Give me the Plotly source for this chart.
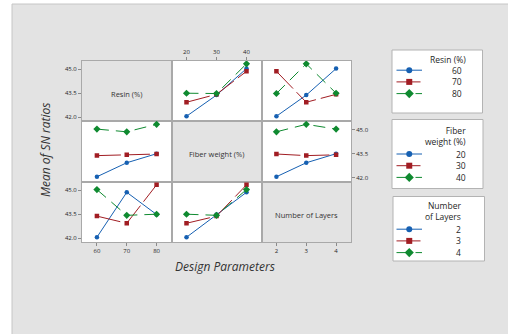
import plotly.graph_objects as go
import pandas as pd

# L9 orthogonal-array runs and the S/N ratio (dB) of each run
resin_pct = [60, 60, 60, 70, 70, 70, 80, 80, 80]
fiber_weight_pct = [20, 30, 40, 20, 30, 40, 20, 30, 40]
num_layers = [2, 3, 4, 3, 4, 2, 4, 2, 3]
sn_ratio = [42.05, 43.38, 45.05, 42.93, 43.43, 44.88, 43.50, 43.48, 45.35]

factor_cols = ["resin", "fiber", "layers"]
factor_names = ["Resin (%)", "Fiber weight (%)", "Number of Layers"]
factor_levels = [[60, 70, 80], [20, 30, 40], [2, 3, 4]]
legend_titles = ["Resin (%)", "Fiber<br>weight (%)", "Number<br>of Layers"]
y_tick_values = [42.0, 43.5, 45.0]

runs = pd.DataFrame({
    "resin": resin_pct,
    "fiber": fiber_weight_pct,
    "layers": num_layers,
    "sn": sn_ratio,
})

# ---- styling / geometry (pixels) ----
W, H = 508, 334
FONT = "Open Sans"
COL_EDGES = [82, 171.5, 261.5, 351]
ROW_EDGES = [60.5, 121, 181.5, 242]
X_RANGES = [[55, 85], [15, 45], [1.5, 4.5]]
Y_RANGE = [41.75, 45.56]
LEVEL_COLORS = ["#1660b2", "#a11d23", "#0f8a30"]
LEVEL_DASHES = ["solid", "24px,5px", "12px,7px"]
LEVEL_SYMBOLS = ["circle", "square", "diamond"]
LEVEL_SIZES = [4.5, 4.5, 5.5]
FRAME = "#a9a9a9"
CELL_GREY = "#e3e3e3"

X_TICK_CELLS = {(2, 0): "bottom", (0, 1): "top", (2, 2): "bottom"}
Y_TICK_CELLS = {(0, 0): "left", (1, 2): "right", (2, 0): "left"}

# legend boxes: (left, top, right, bottom), first title line y, first item y, text right edge
LEGEND_BOXES = [
    dict(box=(392, 50, 482.5, 113), title_y=59, item_y=70.2, right=463.5, title_right=468),
    dict(box=(392, 119.5, 483, 188.5), title_y=131, item_y=154, right=467.5, title_right=467.5),
    dict(box=(393, 196.5, 484.5, 261), title_y=205.7, item_y=229.2, right=462.5, title_right=462.5),
]
ITEM_STEP = 11.7
TITLE_STEP = 10.5
SAMPLE_X = (396.5, 422)


def fx(px):
    return px / W


def fy(py):
    return 1 - py / H


fig = go.Figure()
layout = {}
shapes = []
annotations = []

# grey page background
shapes.append(dict(type="rect", xref="paper", yref="paper", x0=fx(12), x1=1.02,
                   y0=-0.02, y1=fy(4), fillcolor="#e3e3e3",
                   line=dict(color="#c6c6c6", width=1), layer="below"))

tickfont = dict(family=FONT, size=6, color="#262626")

for i in range(3):
    for j in range(3):
        k = i * 3 + j + 1
        suffix = "" if k == 1 else str(k)
        xa = dict(domain=[fx(COL_EDGES[j]), fx(COL_EDGES[j + 1])], range=X_RANGES[j],
                  anchor="y" + suffix, showline=True, mirror=True, linecolor=FRAME,
                  linewidth=1, showgrid=False, zeroline=False, ticks="",
                  showticklabels=False, fixedrange=True)
        ya = dict(domain=[fy(ROW_EDGES[i + 1]), fy(ROW_EDGES[i])], range=Y_RANGE,
                  anchor="x" + suffix, showline=True, mirror=True, linecolor=FRAME,
                  linewidth=1, showgrid=False, zeroline=False, ticks="",
                  showticklabels=False, fixedrange=True)
        if (i, j) in X_TICK_CELLS:
            xa.update(side=X_TICK_CELLS[(i, j)], ticks="outside", ticklen=3, tickwidth=1,
                      tickcolor="#8a8a8a", showticklabels=True, tickvals=factor_levels[j],
                      tickfont=tickfont)
        if (i, j) in Y_TICK_CELLS:
            ya.update(side=Y_TICK_CELLS[(i, j)], ticks="outside", ticklen=3, tickwidth=1,
                      tickcolor="#8a8a8a", showticklabels=True, tickvals=y_tick_values,
                      tickformat=".1f", tickfont=tickfont)
        layout["xaxis" + suffix] = xa
        layout["yaxis" + suffix] = ya

        shapes.append(dict(type="rect", xref="x" + suffix + " domain",
                           yref="y" + suffix + " domain", x0=0, x1=1, y0=0, y1=1,
                           fillcolor=CELL_GREY if i == j else "white",
                           line=dict(width=0), layer="below"))

        if i == j:
            # empty trace so the label cell gets its own frame and ticks
            fig.add_trace(go.Scatter(x=[None], y=[None], xaxis="x" + suffix,
                                     yaxis="y" + suffix, mode="markers",
                                     showlegend=False, hoverinfo="skip"))
            annotations.append(dict(
                text=factor_names[i], xref="paper", yref="paper",
                x=fx((COL_EDGES[j] + COL_EDGES[j + 1]) / 2),
                y=fy((ROW_EDGES[i] + ROW_EDGES[i + 1]) / 2), yshift=-3,
                xanchor="center", yanchor="middle",
                showarrow=False, font=dict(family=FONT, size=7.5, color="#333333")))
            continue

        # mean S/N for each level of row factor i across the column factor j
        means = runs.groupby([factor_cols[i], factor_cols[j]])["sn"].mean()
        for li, lev in enumerate(factor_levels[i]):
            xs = factor_levels[j]
            ys = [means[(lev, xv)] for xv in xs]
            fig.add_trace(go.Scatter(
                x=xs, y=ys, xaxis="x" + suffix, yaxis="y" + suffix,
                mode="lines+markers",
                line=dict(color=LEVEL_COLORS[li], width=1, dash=LEVEL_DASHES[li]),
                marker=dict(symbol=LEVEL_SYMBOLS[li], size=LEVEL_SIZES[li],
                            color=LEVEL_COLORS[li], line=dict(width=0)),
                showlegend=False, hoverinfo="skip"))

# ---- legends (one per factor) on a full-page helper axis in pixel units ----
layout["xaxis10"] = dict(domain=[0, 1], range=[0, W], visible=False, anchor="y10",
                         fixedrange=True)
layout["yaxis10"] = dict(domain=[0, 1], range=[H, 0], visible=False, anchor="x10",
                         fixedrange=True)
legend_font = dict(family=FONT, size=8.5, color="#262626")
for f, spec in enumerate(LEGEND_BOXES):
    x0, y0, x1, y1 = spec["box"]
    shapes.append(dict(type="rect", xref="paper", yref="paper", x0=fx(x0), x1=fx(x1),
                       y0=fy(y1), y1=fy(y0), fillcolor="white",
                       line=dict(color="#b3b3b3", width=1), layer="below"))
    n_lines = legend_titles[f].count("<br>") + 1
    annotations.append(dict(
        text=legend_titles[f], xref="paper", yref="paper",
        x=fx(spec["title_right"]), xanchor="right", align="right",
        y=fy(spec["title_y"] + TITLE_STEP * (n_lines - 1) / 2), yanchor="middle",
        showarrow=False, font=legend_font))
    for li, lev in enumerate(factor_levels[f]):
        yy = spec["item_y"] + li * ITEM_STEP
        xmid = (SAMPLE_X[0] + SAMPLE_X[1]) / 2
        fig.add_trace(go.Scatter(
            x=list(SAMPLE_X), y=[yy, yy], xaxis="x10", yaxis="y10", mode="lines",
            line=dict(color=LEVEL_COLORS[li], width=1, dash=LEVEL_DASHES[li]),
            showlegend=False, hoverinfo="skip"))
        fig.add_trace(go.Scatter(
            x=[xmid], y=[yy], xaxis="x10", yaxis="y10", mode="markers",
            marker=dict(symbol=LEVEL_SYMBOLS[li], size=LEVEL_SIZES[li] + 1.5,
                        color=LEVEL_COLORS[li], line=dict(width=0)),
            showlegend=False, hoverinfo="skip"))
        annotations.append(dict(
            text=str(lev), xref="paper", yref="paper", x=fx(spec["right"]),
            xanchor="right", y=fy(yy), yanchor="middle", showarrow=False,
            font=legend_font))

# axis titles
annotations.append(dict(text="<i>Mean of SN ratios</i>", xref="paper", yref="paper",
                        x=fx(45), y=fy(150), xanchor="center", yanchor="middle",
                        textangle=-90, showarrow=False,
                        font=dict(family=FONT, size=12, color="#333333")))
annotations.append(dict(text="<i>Design Parameters</i>", xref="paper", yref="paper",
                        x=fx(225), y=fy(266), xanchor="center", yanchor="middle",
                        showarrow=False,
                        font=dict(family=FONT, size=12, color="#333333")))

fig.update_layout(
    width=W, height=H, margin=dict(l=0, r=0, t=0, b=0), autosize=False,
    paper_bgcolor="white", plot_bgcolor="rgba(0,0,0,0)",
    showlegend=False, shapes=shapes, annotations=annotations,
    **layout,
)

fig.write_html("out.html", config={"displayModeBar": False})
